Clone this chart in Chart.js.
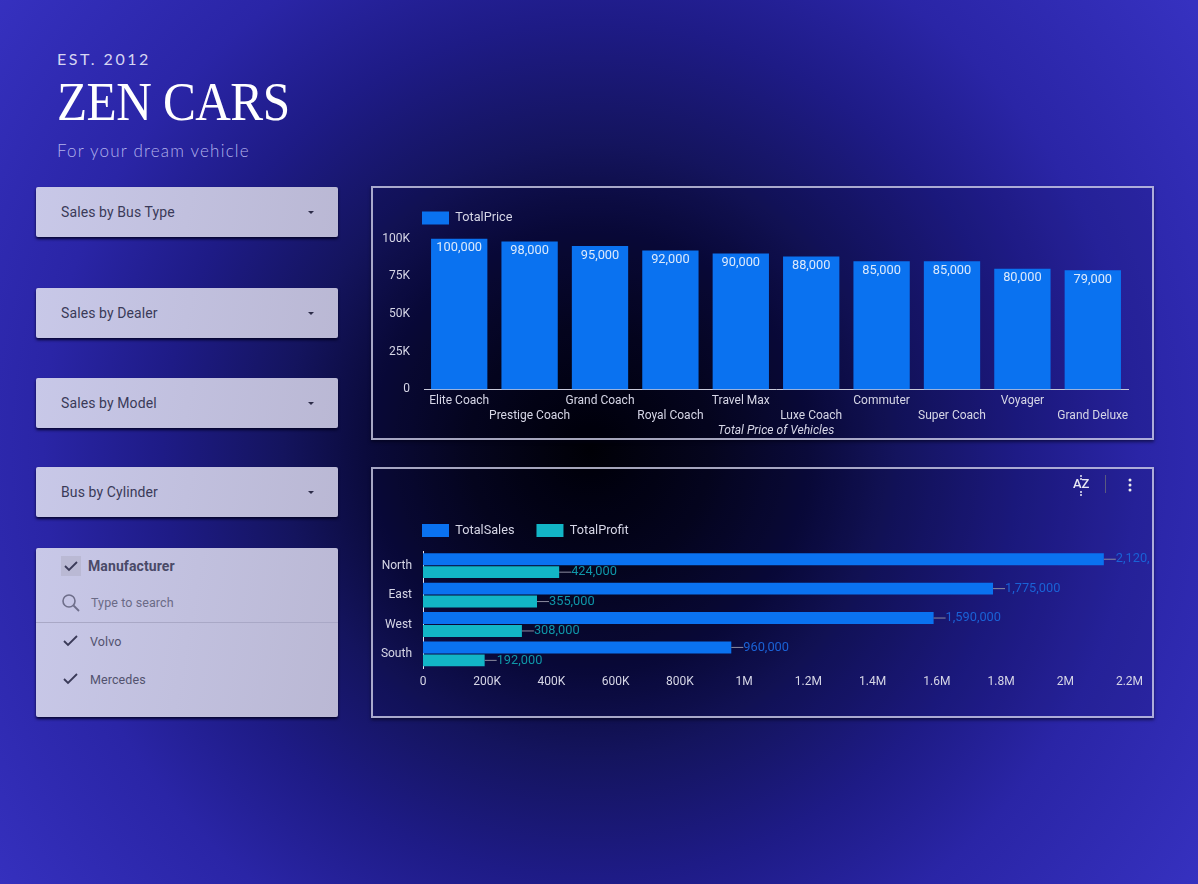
<!DOCTYPE html>
<html>
<head>
<meta charset="utf-8">
<title>Zen Cars</title>
<script src="https://cdn.jsdelivr.net/npm/chart.js@4"></script>
<style>
  html, body { margin: 0; padding: 0; }
  body {
    width: 1198px; height: 884px; position: relative; overflow: hidden;
    font-family: Roboto, sans-serif;
    background: radial-gradient(circle 750px at 590px 450px, #000006 0, #05051e 16%, #0a0a3a 29%, #14145e 41%, #1e1b86 57%, #2a25a6 73%, #3631c0 100%);
  }
  .brand { position: absolute; left: 57px; white-space: nowrap; }
  #est { top: 49px; font: 16px Lato, sans-serif; letter-spacing: 2.5px; color: #d6d6f2; }
  #name { top: 70px; font: 55px "Liberation Serif", serif; color: #fff; letter-spacing: -0.6px; transform: scaleX(.896); transform-origin: left; }
  #tag { top: 140px; font: 300 17px Lato, sans-serif; letter-spacing: 1.2px; color: #b2b2ec; }
  .card {
    position: absolute; left: 36px; width: 302px; border-radius: 2px;
    background: linear-gradient(100deg, #c8c8e8, #bab8d4);
    box-shadow: 0 2px 3px rgba(0,0,30,.85);
    color: #3a3a58; font-size: 14px; letter-spacing: .1px;
  }
  .drop { height: 50px; line-height: 50px; text-indent: 25px; }
  .drop i {
    position: absolute; right: 24px; top: 24px; width: 0; height: 0;
    border: 3px solid transparent; border-top: 3px solid #2c2c48; border-bottom: 0;
  }
  #maker { top: 548px; height: 169px; }
  #maker span, #maker svg { position: absolute; white-space: nowrap; }
  #maker .rule { position: absolute; left: 0; right: 0; top: 74px; height: 1px; background: #a9a8c6; }
  .panel {
    position: absolute; left: 371px; width: 779px; border: 2px solid rgba(212,212,236,.78);
    background: rgba(2,2,30,.10); box-shadow: 0 2px 3px rgba(0,0,20,.55);
  }
  .panel canvas { position: absolute; left: 0; top: 0; }
  #tools { position: absolute; left: 699px; top: 3px; width: 70px; height: 24px; color: #e8e8f4; }
  #tools b { position: absolute; left: 1px; top: 4px; font-size: 13px; font-weight: 500; }
</style>
</head>
<body>
<div class="brand" id="est">EST. 2012</div>
<div class="brand" id="name">ZEN CARS</div>
<div class="brand" id="tag">For your dream vehicle</div>

<div class="card drop" style="top:187px">Sales by Bus Type<i></i></div>
<div class="card drop" style="top:288px">Sales by Dealer<i></i></div>
<div class="card drop" style="top:378px">Sales by Model<i></i></div>
<div class="card drop" style="top:467px">Bus by Cylinder<i></i></div>

<div class="card" id="maker">
  <svg style="left:25px;top:8px" width="20" height="20"><rect width="20" height="20" fill="#bab9d4"/><path d="M4 10l4 4 8-8" fill="none" stroke="#3a3a58" stroke-width="1.8"/></svg>
  <span style="left:52px;top:10px;font-weight:700;color:#4a4a68">Manufacturer</span>
  <svg style="left:25px;top:45px" width="20" height="20"><circle cx="8" cy="8" r="6" fill="none" stroke="#6e6e8a" stroke-width="1.6"/><path d="M12.5 12.5l5.5 5.5" stroke="#6e6e8a" stroke-width="1.8"/></svg>
  <span style="left:55px;top:47px;font-size:12.5px;color:#6a6a86">Type to search</span>
  <div class="rule"></div>
  <svg style="left:26px;top:85px" width="18" height="16"><path d="M2 8l4 4 9-9" fill="none" stroke="#3a3a58" stroke-width="1.8"/></svg>
  <span style="left:54px;top:86px;font-size:12.5px;color:#52526e">Volvo</span>
  <svg style="left:26px;top:123px" width="18" height="16"><path d="M2 8l4 4 9-9" fill="none" stroke="#3a3a58" stroke-width="1.8"/></svg>
  <span style="left:54px;top:124px;font-size:12.5px;color:#52526e">Mercedes</span>
</div>

<div class="panel" style="top:186px;height:250px"><canvas id="priceChart" width="779" height="250"></canvas></div>
<div class="panel" style="top:467px;height:247px">
  <canvas id="regionChart" width="777" height="247"></canvas>
  <div id="tools">
    <b>AZ</b>
    <svg style="position:absolute;left:0;top:0" width="20" height="28"><circle cx="9" cy="4" r="1" fill="#e8e8f4"/><circle cx="9" cy="7" r="1" fill="#e8e8f4"/><circle cx="9" cy="20" r="1" fill="#e8e8f4"/><circle cx="9" cy="23" r="1" fill="#e8e8f4"/></svg>
    <svg style="position:absolute;left:33px;top:0" width="40" height="24"><rect x="0" y="3" width="1" height="18" fill="#5a5a80"/><circle cx="25" cy="8" r="1.5" fill="#eee"/><circle cx="25" cy="13" r="1.5" fill="#eee"/><circle cx="25" cy="18" r="1.5" fill="#eee"/></svg>
  </div>
</div>

<script>
const vehicleNames = ['Elite Coach', 'Prestige Coach', 'Grand Coach', 'Royal Coach', 'Travel Max', 'Luxe Coach', 'Commuter', 'Super Coach', 'Voyager', 'Grand Deluxe'];
const totalPrice = [100000, 98000, 95000, 92000, 90000, 88000, 85000, 85000, 80000, 79000];

const regions = ['North', 'East', 'West', 'South'];
const totalSales = [2120000, 1775000, 1590000, 960000];
const totalProfit = [424000, 355000, 308000, 192000];

const BLUE = '#0a72f0';
const TEAL = '#12b5c6';
const TICK = '#d6d6e6';

Chart.defaults.font.family = 'Roboto, sans-serif';
Chart.defaults.font.size = 12;
Chart.defaults.color = TICK;

function shortNum(v) {
  if (v >= 1000000) return (v / 1000000) + 'M';
  if (v >= 1000) return (v / 1000) + 'K';
  return v;
}

// the legend sits over the plot, not over the canvas edge
function legendToPlot(dx, dy) {
  return {
    id: 'legendToPlot',
    afterLayout(chart) {
      chart.legend.left = chart.chartArea.left - chart.legend.options.labels.padding + dx;
      chart.legend.top += dy;
    }
  };
}

// value inside top of the bar
const topLabels = {
  id: 'topLabels',
  afterDatasetsDraw(chart) {
    const c = chart.ctx;
    c.save();
    c.font = '12.8px Roboto';
    c.fillStyle = '#dce9fb';
    c.textAlign = 'center';
    c.textBaseline = 'middle';
    chart.getDatasetMeta(0).data.forEach((bar, i) => {
      c.fillText(totalPrice[i].toLocaleString('en-US'), bar.x, bar.y + 9.5);
    });
    c.restore();
  }
};

// value after the bar with a small leader line
const leaderLabels = {
  id: 'leaderLabels',
  afterDatasetsDraw(chart) {
    const c = chart.ctx;
    const colors = ['#1a62d6', '#0f96a8'];
    c.save();
    c.font = '12.8px Roboto';
    c.textBaseline = 'middle';
    chart.data.datasets.forEach((ds, d) => {
      chart.getDatasetMeta(d).data.forEach((bar, i) => {
        c.strokeStyle = '#8c8ca0';
        c.beginPath();
        c.moveTo(bar.x, bar.y);
        c.lineTo(bar.x + 12, bar.y);
        c.stroke();
        c.fillStyle = colors[d];
        c.fillText(ds.data[i].toLocaleString('en-US'), bar.x + 12, bar.y);
      });
    });
    c.restore();
  }
};

new Chart(document.getElementById('priceChart'), {
  type: 'bar',
  data: {
    labels: vehicleNames,
    datasets: [{ label: 'TotalPrice', data: totalPrice, backgroundColor: BLUE, barPercentage: 0.8, categoryPercentage: 1 }]
  },
  options: {
    responsive: false,
    animation: false,
    layout: { padding: { top: 15, right: 24, bottom: 0 } },
    plugins: {
      tooltip: { enabled: false },
      legend: { align: 'start', labels: { boxWidth: 27, boxHeight: 13, padding: 12.5, color: TICK, font: { size: 12.7 } } }
    },
    scales: {
      x: {
        grid: { display: false },
        border: { color: '#c8c8d8' },
        ticks: {
          autoSkip: false, maxRotation: 0, padding: -4, color: TICK, font: { lineHeight: 1.25 },
          callback(v, i) { return i % 2 ? ['', vehicleNames[i]] : vehicleNames[i]; }
        },
        title: { display: true, text: 'Total Price of Vehicles', color: TICK, padding: { top: 4, bottom: 0 }, font: { style: 'italic', size: 12.1 } }
      },
      y: {
        min: 0, max: 100000,
        afterFit(s) { s.width = 51; },
        grid: { display: false },
        border: { display: false },
        ticks: { stepSize: 25000, padding: 6, color: TICK, callback: shortNum }
      }
    }
  },
  plugins: [legendToPlot(-2, -4), topLabels]
});

new Chart(document.getElementById('regionChart'), {
  type: 'bar',
  data: {
    labels: regions,
    datasets: [
      { label: 'TotalSales', data: totalSales, backgroundColor: BLUE, barPercentage: 0.92, categoryPercentage: 0.88 },
      { label: 'TotalProfit', data: totalProfit, backgroundColor: TEAL, barPercentage: 0.92, categoryPercentage: 0.88 }
    ]
  },
  options: {
    indexAxis: 'y',
    responsive: false,
    animation: false,
    layout: { padding: { top: 37, right: 20.5, bottom: 29 } },
    plugins: {
      tooltip: { enabled: false },
      legend: { align: 'start', labels: { boxWidth: 27, boxHeight: 13, padding: 22, color: TICK, font: { size: 12.7 } } }
    },
    scales: {
      x: {
        min: 0, max: 2200000,
        grid: { display: false },
        border: { display: false },
        ticks: { stepSize: 200000, padding: -2, color: TICK, maxRotation: 0, callback: shortNum }
      },
      y: {
        afterFit(s) { s.width = 50; },
        grid: { display: false },
        border: { color: '#e4e4f0' },
        ticks: { padding: 3, color: TICK }
      }
    }
  },
  plugins: [legendToPlot(-1, -4), leaderLabels]
});
</script>
</body>
</html>
